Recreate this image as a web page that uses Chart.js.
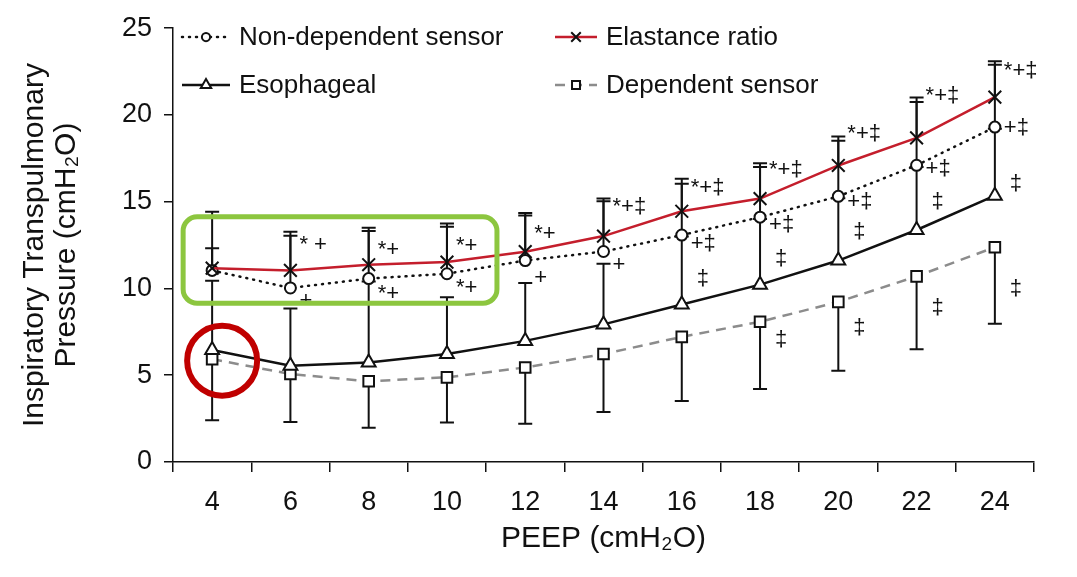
<!DOCTYPE html>
<html>
<head>
<meta charset="utf-8">
<title>Inspiratory transpulmonary pressure vs PEEP</title>
<script src="https://cdn.jsdelivr.net/npm/chart.js@4.4.0/dist/chart.umd.min.js"></script>
<style>
  html, body { margin: 0; padding: 0; background: #fff; }
  canvas { display: block; }
</style>
</head>
<body>
<canvas id="myChart" width="1077" height="577"></canvas>
<script>
// PEEP levels (cmH2O)
const peep = ['4', '6', '8', '10', '12', '14', '16', '18', '20', '22', '24'];

// mean inspiratory transpulmonary pressure
const nonDependent = [11.04, 10.03, 10.57, 10.85, 11.61, 12.13, 13.08, 14.11, 15.31, 17.1, 19.3];
const elastance    = [11.17, 11.04, 11.37, 11.52, 12.12, 13.02, 14.45, 15.18, 17.09, 18.68, 21.03];
const esophageal   = [6.45, 5.55, 5.74, 6.22, 6.98, 7.93, 9.08, 10.22, 11.61, 13.37, 15.35];
const dependent    = [5.93, 5.07, 4.65, 4.88, 5.45, 6.22, 7.21, 8.08, 9.23, 10.7, 12.38];

// error bar ends (SD)
const nonDependentHi = [12.32, 13.04, 13.31, 13.56, 14.2, 15.03, 16.04, 17.0, 18.52, 20.75, 22.9];
const elastanceHi    = [14.42, 13.27, 13.5, 13.75, 14.35, 15.18, 16.32, 17.22, 18.76, 21.0, 23.1];
const esophagealHi   = [10.45, 8.85, 10.4, 9.5, 10.32, 11.42, 13.0, 14.0, 15.2, 17.0, 19.2];
const dependentLo    = [2.4, 2.31, 1.98, 2.27, 2.21, 2.88, 3.51, 4.21, 5.26, 6.5, 7.97];

const yTicks = [0, 5, 10, 15, 20, 25];

// significance marks: [PEEP, value, symbols]
const markPeep  = ['6', '6', '8', '8', '10', '10', '12', '12', '14', '14',
                   '16', '16', '16', '18', '18', '18', '18', '20', '20', '20', '20',
                   '22', '22', '22', '22', '24', '24', '24', '24'];
const markValue = [12.53, 9.27, 12.24, 9.67, 12.47, 10.01, 13.16, 10.58, 14.7, 11.33,
                   15.79, 12.59, 10.53, 16.82, 13.67, 11.73, 7.04, 18.88, 14.99, 13.27, 7.72,
                   21.11, 16.88, 14.99, 8.87, 22.54, 19.28, 16.02, 9.95];
const markText  = ['* +', '+', '*+', '*+', '*+', '*+', '*+', '+', '*+\u2021', '+',
                   '*+\u2021', '+\u2021', '\u2021', '*+\u2021', '+\u2021', '\u2021', '\u2021',
                   '*+\u2021', '+\u2021', '\u2021', '\u2021',
                   '*+\u2021', '+\u2021', '\u2021', '\u2021', '*+\u2021', '+\u2021', '\u2021', '\u2021'];

const FONT = '"Liberation Sans", Arial, Helvetica, sans-serif';
const INK = '#111';

const errorBars = {
  id: 'errorBars',
  beforeDatasetsDraw(chart) {
    const {ctx, scales: {x, y}} = chart;
    const sets = [
      [elastance, elastanceHi],
      [nonDependent, nonDependentHi],
      [esophageal, esophagealHi],
      [dependent, dependentLo]
    ];
    ctx.save();
    ctx.strokeStyle = INK;
    ctx.lineWidth = 2;
    sets.forEach(([mean, end]) => {
      mean.forEach((v, i) => {
        const px = x.getPixelForValue(i);
        const y0 = y.getPixelForValue(v);
        const y1 = y.getPixelForValue(end[i]);
        ctx.beginPath();
        ctx.moveTo(px, y0);
        ctx.lineTo(px, y1);
        ctx.moveTo(px - 7, y1);
        ctx.lineTo(px + 7, y1);
        ctx.stroke();
      });
    });
    ctx.restore();
  }
};

const extras = {
  id: 'extras',
  afterDraw(chart) {
    const {ctx, scales: {x, y}} = chart;
    ctx.save();

    // significance symbols
    ctx.fillStyle = INK;
    ctx.font = '22px ' + FONT;
    ctx.textBaseline = 'middle';
    ctx.textAlign = 'left';
    markText.forEach((t, i) => {
      const px = x.getPixelForValue(peep.indexOf(markPeep[i]));
      const dx = t === '\u2021' ? 15 : 9;
      ctx.fillText(t, px + dx, y.getPixelForValue(markValue[i]));
    });

    // legend inside the plot
    const items = [
      {ds: 0, lx: 182, ly: 37},
      {ds: 1, lx: 555, ly: 37},
      {ds: 2, lx: 182, ly: 85},
      {ds: 3, lx: 555, ly: 85}
    ];
    items.forEach(it => {
      const d = chart.data.datasets[it.ds];
      const len = it.ds % 2 === 0 ? 48 : 42;
      ctx.save();
      ctx.strokeStyle = d.borderColor;
      ctx.lineWidth = d.borderWidth;
      ctx.lineCap = d.borderCapStyle || 'butt';
      ctx.setLineDash(d.borderDash || []);
      ctx.beginPath();
      ctx.moveTo(it.lx, it.ly);
      ctx.lineTo(it.lx + len, it.ly);
      ctx.stroke();
      ctx.restore();
      ctx.save();
      ctx.strokeStyle = d.pointBorderColor;
      ctx.fillStyle = d.pointBackgroundColor;
      ctx.lineWidth = 2;
      Chart.helpers.drawPoint(ctx, {
        pointStyle: d.pointStyle,
        radius: d.pointRadius * 0.75,
        rotation: 0,
        borderWidth: 2
      }, it.lx + len / 2, it.ly);
      ctx.restore();
      ctx.fillStyle = INK;
      ctx.font = '26px ' + FONT;
      ctx.fillText(d.label, it.lx + len + 9, it.ly + 1);
    });

    // highlight box around PEEP 4-10 upper curves
    const bx0 = x.getPixelForValue(0) - 29;
    const bx1 = x.getPixelForValue(3) + 50;
    const by0 = y.getPixelForValue(14.13);
    const by1 = y.getPixelForValue(9.15);
    ctx.strokeStyle = '#8cc63f';
    ctx.lineWidth = 5;
    ctx.beginPath();
    ctx.roundRect(bx0, by0, bx1 - bx0, by1 - by0, 14);
    ctx.stroke();

    // circle at PEEP 4, lower curves
    ctx.strokeStyle = '#c00000';
    ctx.lineWidth = 6;
    ctx.beginPath();
    ctx.arc(x.getPixelForValue(0) + 10, y.getPixelForValue(5.84), 35, 0, Math.PI * 2);
    ctx.stroke();

    ctx.restore();
  }
};

const ctx = document.getElementById('myChart').getContext('2d');

const myChart = new Chart(ctx, {
  type: 'line',
  data: {
    labels: peep,
    datasets: [
      {
        label: 'Non-dependent sensor',
        data: nonDependent,
        borderColor: INK,
        borderWidth: 2.5,
        borderDash: [1, 6],
        borderCapStyle: 'round',
        pointStyle: 'circle',
        pointRadius: 5.5,
        pointBackgroundColor: '#fff',
        pointBorderColor: INK,
        pointBorderWidth: 2,
        order: 2
      },
      {
        label: 'Elastance ratio',
        data: elastance,
        borderColor: '#c41e2c',
        borderWidth: 2.5,
        pointStyle: 'crossRot',
        pointRadius: 9,
        pointBackgroundColor: INK,
        pointBorderColor: INK,
        pointBorderWidth: 2,
        order: 1
      },
      {
        label: 'Esophageal',
        data: esophageal,
        borderColor: INK,
        borderWidth: 2.5,
        pointStyle: 'triangle',
        pointRadius: 8,
        pointBackgroundColor: '#fff',
        pointBorderColor: INK,
        pointBorderWidth: 2,
        order: 3
      },
      {
        label: 'Dependent sensor',
        data: dependent,
        borderColor: '#8c8c8c',
        borderWidth: 2.5,
        borderDash: [10, 7],
        pointStyle: 'rect',
        pointRadius: 7.5,
        pointBackgroundColor: '#fff',
        pointBorderColor: INK,
        pointBorderWidth: 2,
        order: 4
      }
    ]
  },
  options: {
    responsive: false,
    animation: false,
    devicePixelRatio: 1,
    layout: { padding: { top: 25, right: 43, left: 0, bottom: 0 } },
    plugins: {
      legend: { display: false },
      tooltip: { enabled: false }
    },
    elements: { line: { tension: 0, fill: false } },
    scales: {
      x: {
        type: 'category',
        offset: true,
        border: { display: true, color: INK, width: 1.5 },
        grid: { offset: true, drawOnChartArea: false, drawTicks: true, tickLength: 10, color: INK, lineWidth: 1.5 },
        ticks: { color: INK, padding: 14, font: { family: FONT, size: 27 }, maxRotation: 0 },
        title: {
          display: true,
          text: 'PEEP (cmH\u2082O)',
          color: INK,
          font: { family: FONT, size: 30, lineHeight: 1.2 },
          padding: { top: 0, bottom: 20 }
        },
        afterFit(s) { s.height = 115; }
      },
      y: {
        min: 0,
        max: 25,
        border: { display: true, color: INK, width: 1.5 },
        grid: { drawOnChartArea: false, drawTicks: true, tickLength: 9, color: INK, lineWidth: 1.5 },
        afterBuildTicks(s) { s.ticks = yTicks.map(v => ({ value: v })); },
        ticks: { color: INK, padding: 12, font: { family: FONT, size: 27 } },
        title: {
          display: true,
          text: ['Inspiratory Transpulmonary', 'Pressure (cmH\u2082O)'],
          color: INK,
          font: { family: FONT, size: 30, lineHeight: 1.07 },
          padding: { top: 19, bottom: 0 }
        },
        afterFit(s) { s.width = 173; }
      }
    }
  },
  plugins: [errorBars, extras]
});
</script>
</body>
</html>
